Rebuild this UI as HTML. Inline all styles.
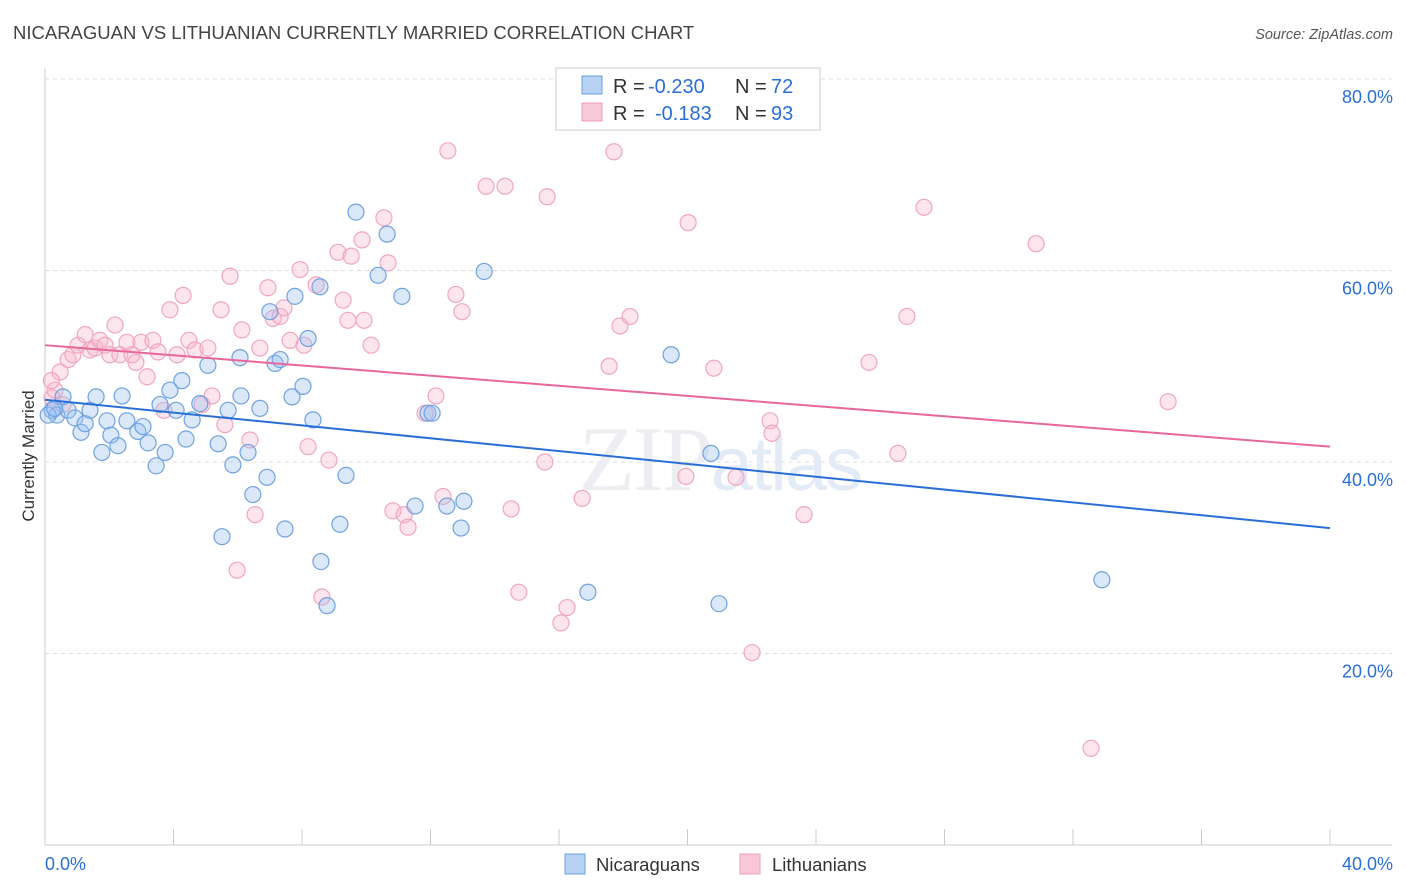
<!DOCTYPE html>
<html><head><meta charset="utf-8">
<style>
html,body{margin:0;padding:0;background:#fff;}
body{width:1406px;height:892px;overflow:hidden;font-family:"Liberation Sans",sans-serif;}
</style></head>
<body>
<svg id="chart" width="1406" height="892" xmlns="http://www.w3.org/2000/svg" style="position:absolute;left:0;top:0">
  <text x="13" y="39" font-size="18.5" fill="#444" font-family="Liberation Sans, sans-serif">NICARAGUAN VS LITHUANIAN CURRENTLY MARRIED CORRELATION CHART</text>
  <text x="1393" y="39" font-size="14.5" fill="#555" font-style="italic" text-anchor="end">Source: ZipAtlas.com</text>
  <g id="grid"></g>
  <g id="axes"></g>
  <text x="720" y="490" font-size="92" fill="#eceef2" text-anchor="middle" font-family="Liberation Serif, serif" letter-spacing="-2">ZIP<tspan fill="#e3ebf7" font-family="Liberation Sans, sans-serif" font-size="76">atlas</tspan></text>
  <g id="pts"></g>
  <g id="lines"></g>
  <text transform="translate(34,456) rotate(-90)" font-size="17" fill="#333" text-anchor="middle">Currently Married</text>
  <g>
    <rect x="556" y="68" width="264" height="62" fill="#fff" stroke="#ccc"/>
    <rect x="582" y="76" width="20" height="18" fill="#b8d2f4" stroke="#6a9fe0"/>
    <rect x="582" y="103" width="20" height="18" fill="#f9c8d6" stroke="#f0a0b8"/>
    <text x="613" y="93" font-size="20" fill="#333">R = <tspan x="648" fill="#2a6fd6">-0.230</tspan><tspan x="735">N = </tspan><tspan x="771" fill="#2a6fd6">72</tspan></text>
    <text x="613" y="120" font-size="20" fill="#333">R = <tspan x="655" fill="#2a6fd6">-0.183</tspan><tspan x="735">N = </tspan><tspan x="771" fill="#2a6fd6">93</tspan></text>
  </g>
  <g>
    <rect x="565" y="854" width="20" height="20" fill="#b8d2f4" stroke="#6a9fe0"/>
    <text x="596" y="871" font-size="18.5" fill="#333">Nicaraguans</text>
    <rect x="740" y="854" width="20" height="20" fill="#f9c8d6" stroke="#f0a0b8"/>
    <text x="772" y="871" font-size="18.5" fill="#333">Lithuanians</text>
  </g>
</svg>
<script>
const yTicks=[20,40,60,80];
const yTickLabels=["20.0%","40.0%","60.0%","80.0%"];
const xTickLabels=["0.0%","40.0%"];
const blueX=[0.22,0.37,0.56,0.72,0.93,1.12,1.25,1.40,1.59,1.77,1.93,2.05,2.27,2.40,2.55,2.89,3.05,3.21,3.46,3.58,3.74,3.89,4.08,4.26,4.39,4.58,4.82,5.07,5.39,5.51,5.70,5.85,6.07,6.10,6.32,6.47,6.69,6.91,7.00,7.16,7.32,7.47,7.69,7.78,8.03,8.19,8.34,8.56,8.59,8.78,9.18,9.37,9.68,10.37,10.65,11.11,11.52,11.92,12.05,12.51,12.95,13.04,13.67,16.90,19.49,20.73,20.98,32.90,0.1,0.3];
const blueY=[45.4,44.9,46.8,45.4,44.6,43.1,44.0,45.4,46.8,41.0,44.3,42.8,41.7,46.9,44.3,43.2,43.7,42.0,39.6,46.0,41.0,47.5,45.4,48.5,42.4,44.4,46.1,50.1,41.9,32.2,45.4,39.7,50.9,46.9,41.0,36.6,45.6,38.4,55.7,50.3,50.7,33.0,46.8,57.3,47.9,52.9,44.4,58.3,29.6,25.0,33.5,38.6,66.1,59.5,63.8,57.3,35.4,45.1,45.1,35.4,33.1,35.9,59.9,26.4,51.2,40.9,25.2,27.7,44.9,45.6];
const pinkX=[0.22,0.31,0.47,0.56,0.72,0.87,1.03,1.25,1.40,1.56,1.71,1.87,2.02,2.18,2.33,2.55,2.71,2.83,2.99,3.18,3.36,3.52,3.70,3.89,4.11,4.30,4.48,4.67,4.89,5.07,5.20,5.48,5.60,5.76,5.98,6.13,6.38,6.54,6.69,6.94,7.10,7.32,7.44,7.63,7.94,8.06,8.19,8.44,8.62,8.84,9.12,9.28,9.43,9.53,9.87,9.93,10.15,10.55,10.68,10.83,11.18,11.30,11.83,12.17,12.39,12.54,12.79,12.98,13.73,14.32,14.51,14.75,15.56,15.63,16.06,16.25,16.72,17.56,17.71,17.90,18.21,19.95,20.02,20.82,21.51,22.01,22.57,22.63,23.63,25.65,26.55,26.83,27.36,30.85,32.56,34.96,0.2];
const pinkY=[46.7,47.5,49.4,46.0,50.7,51.2,52.2,53.3,51.7,51.9,52.7,52.2,51.2,54.3,51.2,52.5,51.2,50.4,52.5,48.9,52.7,51.5,45.4,55.9,51.2,57.4,52.7,51.7,46.0,51.9,46.9,55.9,43.9,59.4,28.7,53.8,42.3,34.5,51.9,58.2,55.0,55.2,56.1,52.7,60.1,52.2,41.6,58.5,25.9,40.2,61.9,56.9,54.8,61.5,63.2,54.8,52.2,65.5,60.8,34.9,34.5,33.2,45.1,46.9,36.4,72.5,57.5,55.7,68.8,68.8,35.1,26.4,40.0,67.7,23.2,24.8,36.2,50.0,72.4,54.2,55.2,38.5,65.0,49.8,38.4,20.1,44.3,43.0,34.5,50.4,40.9,55.2,66.6,62.8,10.1,46.3,48.5];
const blueTrend=[46.5,33.1];
const pinkTrend=[52.2,41.6];
const trendX=[0,40];

const NS="http://www.w3.org/2000/svg";
function xs(v){return 45+v*32.125;}
function ys(v){return 845-v*9.575;}
function mk(tag,attrs,parent){const e=document.createElementNS(NS,tag);for(const k in attrs)e.setAttribute(k,attrs[k]);parent.appendChild(e);return e;}
const grid=document.getElementById('grid');
yTicks.forEach((t,i)=>{
  const l=mk('line',{x1:45,x2:1392,y1:ys(t),y2:ys(t),stroke:'#ddd','stroke-dasharray':'4,4'},grid);
  
  
  const tx=mk('text',{x:1393,y:ys(t)+24,'font-size':18,fill:'#2a6fd6','text-anchor':'end'},grid);
  tx.textContent=yTickLabels[i];
  
  
});
const axes=document.getElementById('axes');
let a=mk('line',{x1:45,x2:45,y1:68,y2:845,stroke:'#ccc'},axes);


a=mk('line',{x1:45,x2:1392,y1:845,y2:845,stroke:'#ccc'},axes);


for(let i=0;i<=10;i++){
  const t=mk('line',{x1:xs(i*4),x2:xs(i*4),y1:829,y2:845,stroke:'#ccc'},axes);
  
  
}
[[0,'start',45],[1,'end',1393]].forEach(([i,anc,x])=>{
  const tx=mk('text',{x:x,y:870,'font-size':18,fill:'#2a6fd6','text-anchor':anc},axes);
  tx.textContent=xTickLabels[i];
  
  
});
const pts=document.getElementById('pts');
pinkX.forEach((x,i)=>{
  const c=mk('circle',{cx:xs(x),cy:ys(pinkY[i]),r:8,fill:'rgba(248,180,202,0.35)',stroke:'#f2a6bd','stroke-width':1.2},pts);
  
  
});
blueX.forEach((x,i)=>{
  const c=mk('circle',{cx:xs(x),cy:ys(blueY[i]),r:8,fill:'rgba(150,190,240,0.35)',stroke:'#6fa2e2','stroke-width':1.2},pts);
  
  
});
const lines=document.getElementById('lines');
let tl=mk('line',{x1:xs(trendX[0]),y1:ys(blueTrend[0]),x2:xs(trendX[1]),y2:ys(blueTrend[1]),stroke:'#2a6fd6','stroke-width':2},lines);


tl=mk('line',{x1:xs(trendX[0]),y1:ys(pinkTrend[0]),x2:xs(trendX[1]),y2:ys(pinkTrend[1]),stroke:'#e8679a','stroke-width':2},lines);


</script>
</body></html>
